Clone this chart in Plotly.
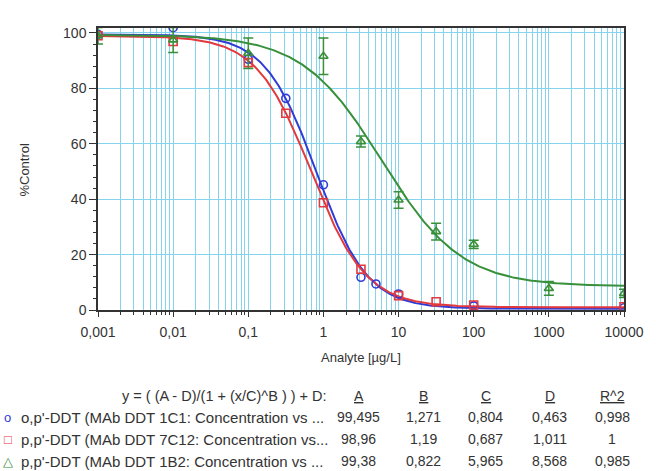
import numpy as np
import plotly.graph_objects as go

# ---- data ----
series_names = [
    "o,p'-DDT (MAb DDT 1C1: Concentration vs ...",
    "p,p'-DDT (MAb DDT 7C12: Concentration vs...",
    "p,p'-DDT (MAb DDT 1B2: Concentration vs ...",
]
# fitted 4PL parameters shown in the table
param_A = [99.495, 98.96, 99.38]
param_B = [1.271, 1.19, 0.822]
param_C = [0.804, 0.687, 5.965]
param_D = [0.463, 1.011, 8.568]
param_R2 = ["0,998", "1", "0,985"]
table_A = ["99,495", "98,96", "99,38"]
table_B = ["1,271", "1,19", "0,822"]
table_C = ["0,804", "0,687", "5,965"]
table_D = ["0,463", "1,011", "8,568"]

# measured points
x_1c1 = [0.001, 0.01, 0.1, 0.316, 1, 3.16, 5, 10, 100, 10000]
y_1c1 = [99.5, 101.9, 90.5, 76.4, 45.2, 11.8, 9.4, 5.8, 1.5, 0.8]

x_7c12 = [0.001, 0.01, 0.1, 0.316, 1, 3.16, 10, 31.6, 100, 10000]
y_7c12 = [99.0, 96.9, 89.3, 71.0, 38.7, 14.7, 5.2, 3.0, 1.8, 1.2]

x_1b2 = [0.001, 0.01, 0.1, 1, 3.16, 10, 31.6, 100, 1000, 10000]
y_1b2 = [99.0, 97.5, 92.7, 91.6, 60.8, 39.7, 28.3, 23.7, 7.8, 6.0]
e_1b2 = [3.0, 4.5, 5.5, 6.6, 2.0, 3.0, 3.0, 1.5, 2.5, 1.5]

x_tickvals = [0.001, 0.01, 0.1, 1, 10, 100, 1000, 10000]
x_ticktext = ["0,001", "0,01", "0,1", "1", "10", "100", "1000", "10000"]
y_tickvals = [0, 20, 40, 60, 80, 100]

# ---- style ----
colors = ["#2f3bd6", "#e2393e", "#38903a"]
symbols = ["circle-open", "square-open", "triangle-up-open"]
legend_glyph = ["o", "□", "△"]
FONT = "Liberation Sans, Arial, sans-serif"
TXT = "#333333"
GRID = "#86d3ee"

fig = go.Figure()

xfit = np.logspace(-3, 4, 400)
for i in range(3):
    A, B, C, D = param_A[i], param_B[i], param_C[i], param_D[i]
    yfit = (A - D) / (1 + (xfit / C) ** B) + D
    fig.add_trace(go.Scatter(x=xfit, y=yfit, mode="lines",
                             line=dict(color=colors[i], width=2),
                             showlegend=False, hoverinfo="skip"))

pts = [(x_1c1, y_1c1, None), (x_7c12, y_7c12, None), (x_1b2, y_1b2, e_1b2)]
for i, (xs, ys, es) in enumerate(pts):
    kw = {}
    if es is not None:
        kw["error_y"] = dict(type="data", array=es, visible=True,
                             color=colors[i], thickness=1.5, width=5)
    fig.add_trace(go.Scatter(x=xs, y=ys, mode="markers",
                             marker=dict(symbol=symbols[i], size=8,
                                         color=colors[i],
                                         line=dict(width=1.6, color=colors[i])),
                             showlegend=False, **kw))

L, R, T, Bm = 98, 21, 28, 161
W, H = 656, 471
pw, ph = W - L - R, H - T - Bm


def px(xp):
    return (xp - L) / pw


def py(yp):
    return (H - Bm - yp) / ph


fig.update_layout(
    width=W, height=H,
    margin=dict(l=L, r=R, t=T, b=Bm),
    paper_bgcolor="white", plot_bgcolor="white",
    font=dict(family=FONT, size=14, color=TXT),
    separators=",.",
    xaxis=dict(type="log", range=[-3, 4],
               tickvals=x_tickvals, ticktext=x_ticktext,
               tickfont=dict(size=14),
               ticklabelstandoff=3,
               showgrid=True, gridcolor=GRID, gridwidth=1,
               ticks="outside", ticklen=5, tickcolor="#333",
               showline=True, linecolor="#333", linewidth=1.5, mirror=True,
               minor=dict(tickvals=[m * 10.0 ** e for e in range(-3, 4) for m in range(2, 10)],
                          showgrid=True, gridcolor=GRID, gridwidth=1,
                          ticks="outside", ticklen=3, tickcolor="#333"),
               zeroline=False),
    yaxis=dict(range=[0, 101.8], tickvals=y_tickvals,
               tickfont=dict(size=14),
               showgrid=True, gridcolor=GRID, gridwidth=1,
               ticks="outside", ticklen=7, tickcolor="#333",
               showline=True, linecolor="#333", linewidth=1.5, mirror=True,
               minor=dict(dtick=4, ticks="outside", ticklen=3, tickcolor="#333",
                          showgrid=False),
               zeroline=False),
)

ann = []
ann.append(dict(text="Analyte [µg/L]", x=0.5, y=py(357), xref="paper", yref="paper",
                showarrow=False, xanchor="center", yanchor="middle",
                font=dict(size=13)))
ann.append(dict(text="%Control", x=px(22), y=py(170), xref="paper", yref="paper",
                showarrow=False, textangle=-90, xanchor="center", yanchor="middle",
                font=dict(size=13)))
ann.append(dict(text="y = ( (A - D)/(1 + (x/C)^B ) ) + D:", x=px(334), y=py(396),
                xref="paper", yref="paper", showarrow=False,
                xanchor="right", yanchor="middle", font=dict(size=14.5)))
col_x = [364, 430, 494, 559, 623]
col_head = ["A", "B", "C", "D", "R^2"]
for cx, h in zip(col_x, col_head):
    ann.append(dict(text=f"<u>{h}</u>", x=px(cx), y=py(396), xref="paper", yref="paper",
                    showarrow=False, xanchor="center", yanchor="middle"))
row_y = [417, 439, 461]
cols = [table_A, table_B, table_C, table_D, param_R2]
for r in range(3):
    ann.append(dict(text=legend_glyph[r], x=px(6), y=py(row_y[r]), xref="paper",
                    yref="paper", showarrow=False, xanchor="center", yanchor="middle",
                    font=dict(color=colors[r], size=13)))
    ann.append(dict(text=series_names[r], x=px(17), y=py(row_y[r]), xref="paper",
                    yref="paper", showarrow=False, xanchor="left", yanchor="middle",
                    font=dict(size=15)))
    for cx, col in zip(col_x, cols):
        ann.append(dict(text=col[r], x=px(cx), y=py(row_y[r]), xref="paper",
                        yref="paper", showarrow=False, xanchor="center",
                        yanchor="middle"))
fig.update_layout(annotations=ann)

fig.write_html("out.html")
